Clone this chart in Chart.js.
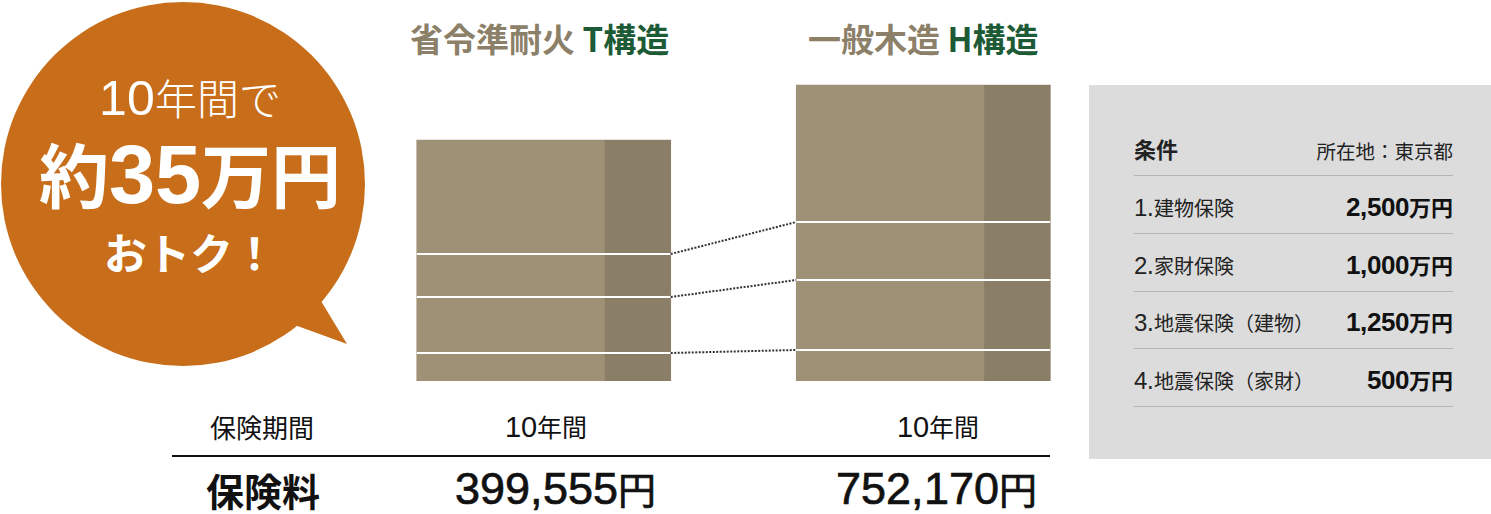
<!DOCTYPE html>
<html lang="ja">
<head>
<meta charset="utf-8">
<script src="https://cdn.jsdelivr.net/npm/chart.js@4"></script>
<style>
  @font-face { font-family: "Num"; src: local("Liberation Sans"), local("LiberationSans");
               font-weight: 400; unicode-range: U+0030-0039, U+002C, U+002E; size-adjust: 118%; }
  @font-face { font-family: "Num"; src: local("Liberation Sans Bold"), local("LiberationSans-Bold");
               font-weight: 700; unicode-range: U+0030-0039, U+002C, U+002E; size-adjust: 118%; }
  html, body { margin: 0; padding: 0; background: #fff; }
  body { width: 1491px; height: 514px; position: relative; overflow: hidden;
         font-family: "Num", "Noto Sans CJK JP", "Noto Sans", sans-serif; color: #111; }
  .abs { position: absolute; white-space: nowrap; }
  #bubble { position: absolute; left: 0; top: 0; }
  .bub { position: absolute; left: 10px; width: 360px; text-align: center; color: #fff; }
  .title { font-size: 33px; font-weight: 700; color: #8c8069; top: 14px; font-family: "Noto Sans CJK JP", sans-serif; }
  .title span { color: #1d5b36; }
  .premium { font-size: 38px; top: 460px; -webkit-text-stroke: 0.7px #111; }
  #chartBox { position: absolute; left: 354px; top: 81px; width: 759px; height: 300px; }
  #panel { position: absolute; left: 1089px; top: 85px; width: 402px; height: 374px; background: #dcdcdc; }
  .row { position: absolute; left: 45px; width: 319px; height: 57px; border-bottom: 1px solid #b5b5b5; }
  .row .l { position: absolute; left: 0; bottom: 11px; font-size: 20px; color: #222; }
  .row .r { position: absolute; right: 0; bottom: 10px; font-size: 22px; font-weight: 700; color: #111; }
</style>
</head>
<body>
<svg id="bubble" width="380" height="380">
  <circle cx="183" cy="184" r="182" fill="#c86e1a"/>
  <polygon points="292,324 347,344 318,296" fill="#c86e1a"/>
</svg>
<div class="bub" style="top:66px;font-size:42px;font-weight:300;">10年間で</div>
<div class="bub" style="top:122px;font-size:70px;font-weight:700;">約35万円</div>
<div class="bub" style="top:220px;font-size:43px;font-weight:700;">おトク！</div>

<div class="abs title" style="left:410px;">省令準耐火 <span>T構造</span></div>
<div class="abs title" style="left:808px;">一般木造 <span>H構造</span></div>

<div id="chartBox"><canvas id="insuranceChart"></canvas></div>

<div class="abs" style="left:210px;top:408px;font-size:26px;">保険期間</div>
<div class="abs" id="period1" style="left:505px;top:408px;font-size:25px;"></div>
<div class="abs" id="period2" style="left:897px;top:408px;font-size:25px;"></div>
<div class="abs" style="left:172px;top:455px;width:878px;height:2px;background:#111;"></div>
<div class="abs" style="left:206px;top:462px;font-size:38px;font-weight:700;">保険料</div>
<div class="abs premium" id="premium1" style="left:455px;"></div>
<div class="abs premium" id="premium2" style="left:836px;"></div>

<div id="panel">
  <div class="row" style="top:33px;">
    <div class="l" style="font-weight:700;font-size:22px;">条件</div>
    <div class="r" style="font-weight:400;font-size:19.5px;color:#222;">所在地：東京都</div>
  </div>
  <div id="rows"></div>
</div>

<script>
// bar categories and labels
const structures = ['省令準耐火 T構造', '一般木造 H構造'];
const periods = ['10年間', '10年間'];
const premiums = ['399,555円', '752,170円'];

// stacked segment heights, bottom to top (relative units)
const segment1 = [28, 31];
const segment2 = [56, 70];
const segment3 = [43, 58];
const segment4 = [114, 137];

// conditions table
const condLabels = ['1.建物保険', '2.家財保険', '3.地震保険（建物）', '4.地震保険（家財）'];
const condValues = ['2,500万円', '1,000万円', '1,250万円', '500万円'];

document.getElementById('period1').textContent = periods[0];
document.getElementById('period2').textContent = periods[1];
document.getElementById('premium1').textContent = premiums[0];
document.getElementById('premium2').textContent = premiums[1];

const rows = document.getElementById('rows');
condLabels.forEach((lab, i) => {
    const r = document.createElement('div');
    r.className = 'row';
    r.style.top = (91 + i * 57.5) + 'px';
    r.innerHTML = '<div class="l"></div><div class="r"></div>';
    r.querySelector('.l').textContent = lab;
    r.querySelector('.r').textContent = condValues[i];
    rows.appendChild(r);
});

const light = '#9e9176';
const dark = '#8a7e66';

// dark right side, white separators and dotted connectors
const blockPlugin = {
    id: 'blocks',
    afterDatasetsDraw(chart) {
        const ctx = chart.ctx;
        const metas = chart.data.datasets.map((d, i) => chart.getDatasetMeta(i));
        ctx.save();
        metas.forEach(meta => {
            meta.data.forEach(el => {
                const p = el.getProps(['x', 'y', 'base', 'width'], true);
                const right = p.x + p.width / 2;
                ctx.fillStyle = dark;
                ctx.fillRect(right - p.width * 0.26, p.y, p.width * 0.26, p.base - p.y);
            });
        });
        for (let i = 1; i < metas.length; i++) {
            metas[i].data.forEach(el => {
                const p = el.getProps(['x', 'base', 'width'], true);
                ctx.fillStyle = '#fff';
                ctx.fillRect(p.x - p.width / 2, p.base - 1, p.width, 2);
            });
            // dotted connector from bar 1 right edge to bar 2 left edge
            const a = metas[i].data[0].getProps(['x', 'base', 'width'], true);
            const b = metas[i].data[1].getProps(['x', 'base', 'width'], true);
            ctx.strokeStyle = '#333';
            ctx.lineWidth = 2;
            ctx.setLineDash([2, 1.5]);
            ctx.beginPath();
            ctx.moveTo(a.x + a.width / 2, a.base);
            ctx.lineTo(b.x - b.width / 2, b.base);
            ctx.stroke();
        }
        ctx.restore();
    }
};

const segments = [segment1, segment2, segment3, segment4];

new Chart(document.getElementById('insuranceChart'), {
    type: 'bar',
    data: {
        labels: structures,
        datasets: segments.map((seg, i) => ({
            label: 'segment' + (i + 1),
            data: seg,
            backgroundColor: light,
            borderWidth: 0,
            barThickness: 254
        }))
    },
    options: {
        responsive: true,
        maintainAspectRatio: false,
        animation: false,
        layout: { padding: 0 },
        plugins: { legend: { display: false }, tooltip: { enabled: false } },
        scales: {
            x: { stacked: true, display: false },
            y: { stacked: true, display: false, min: 0, max: 300 }
        }
    },
    plugins: [blockPlugin]
});
</script>
</body>
</html>
